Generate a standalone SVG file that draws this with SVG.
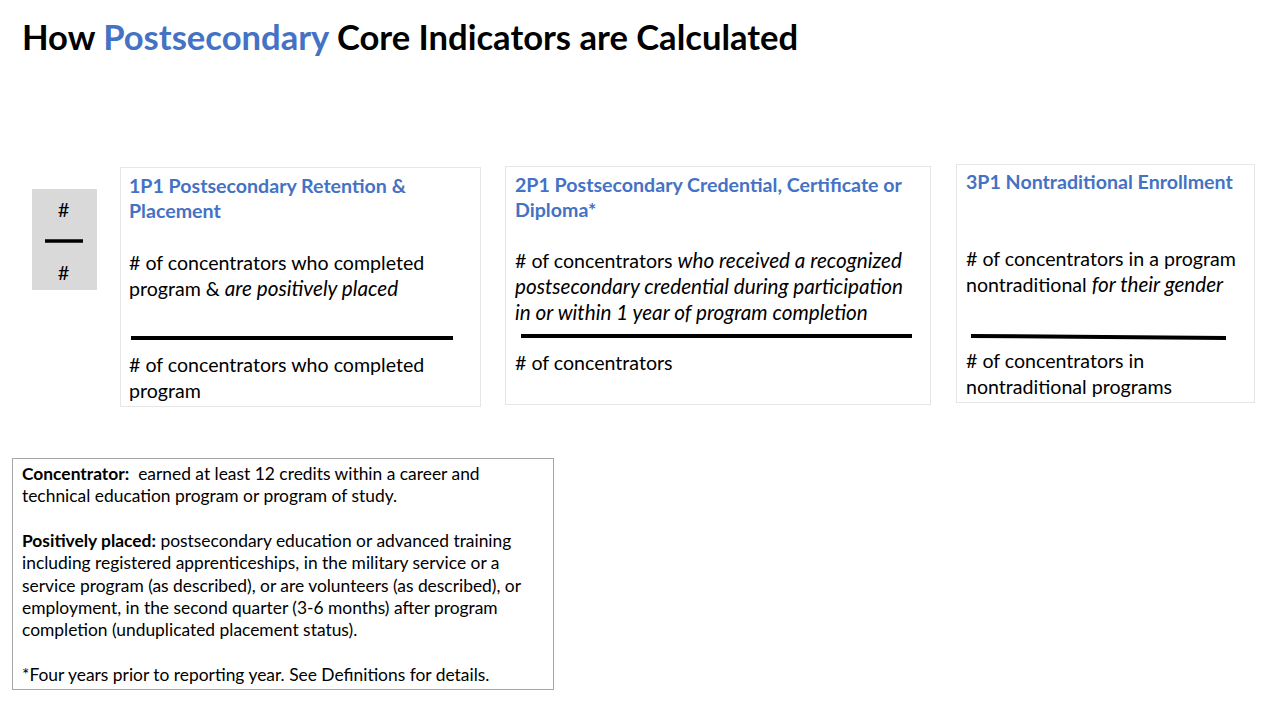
<svg xmlns="http://www.w3.org/2000/svg" width="1280" height="720" viewBox="0 0 1280 720">
<style>
text{font-family:Lato,"Open Sans","Liberation Sans",sans-serif;fill:#000}
.title{font-size:34.6px;font-weight:bold}
.blue{fill:#4472C4}
.h{font-size:19.6px;font-weight:bold;fill:#4472C4}
.b{font-size:19.6px}
.b .it,.b.it{font-size:20.7px}
.d{font-size:17.4px}
.bold{font-weight:bold}
.it{font-style:italic}
.card{fill:#fff;stroke:#e6e6e6;stroke-width:1}
.bar{stroke:#000;stroke-width:4}
</style>
<rect width="1280" height="720" fill="#fff"/>
<text class="title" x="22" y="50">How <tspan class="blue">Postsecondary</tspan> Core Indicators are Calculated</text>

<g id="fraction">
<rect x="32" y="189" width="65" height="101" fill="#d9d9d9"/>
<text x="63.5" y="217" font-size="20" text-anchor="middle">#</text>
<line x1="45" y1="241" x2="83" y2="241" stroke="#000" stroke-width="3.5"/>
<text x="63.5" y="280" font-size="20" text-anchor="middle">#</text>
</g>

<g id="card1">
<rect class="card" x="120.5" y="167.5" width="360" height="239"/>
<text class="h" x="129" y="193">1P1 Postsecondary Retention &amp;</text>
<text class="h" x="129" y="218">Placement</text>
<text class="b" x="129" y="270"># of concentrators who completed</text>
<text class="b" x="129" y="296">program &amp; <tspan class="it">are positively placed</tspan></text>
<line class="bar" x1="131" y1="338" x2="453" y2="338"/>
<text class="b" x="129" y="372"># of concentrators who completed</text>
<text class="b" x="129" y="398">program</text>
</g>

<g id="card2">
<rect class="card" x="505.5" y="166.5" width="425" height="238"/>
<text class="h" x="515" y="192">2P1 Postsecondary Credential, Certificate or</text>
<text class="h" x="515" y="217">Diploma*</text>
<text class="b" x="515" y="268"># of concentrators <tspan class="it">who received a recognized</tspan></text>
<text class="b it" x="515" y="294">postsecondary credential during participation</text>
<text class="b it" x="515" y="320">in or within 1 year of program completion</text>
<line class="bar" x1="521" y1="336" x2="912" y2="336"/>
<text class="b" x="515" y="370"># of concentrators</text>
</g>

<g id="card3">
<rect class="card" x="956.5" y="164.5" width="298" height="238"/>
<text class="h" x="966" y="189">3P1 Nontraditional Enrollment</text>
<text class="b" x="966" y="266"># of concentrators in a program</text>
<text class="b" x="966" y="292">nontraditional <tspan class="it">for their gender</tspan></text>
<line class="bar" x1="971" y1="336" x2="1226" y2="338"/>
<text class="b" x="966" y="368"># of concentrators in</text>
<text class="b" x="966" y="394">nontraditional programs</text>
</g>

<g id="definitions">
<rect x="12.5" y="458.5" width="541" height="231" fill="#fff" stroke="#a6a6a6" stroke-width="1"/>
<text class="d" x="22" y="480"><tspan class="bold">Concentrator:</tspan>&#160; earned at least 12 credits within a career and</text>
<text class="d" x="22" y="502">technical education program or program of study.</text>
<text class="d" x="22" y="547"><tspan class="bold">Positively placed:</tspan> postsecondary education or advanced training</text>
<text class="d" x="22" y="569">including registered apprenticeships, in the military service or a</text>
<text class="d" x="22" y="592">service program (as described), or are volunteers (as described), or</text>
<text class="d" x="22" y="614">employment, in the second quarter (3-6 months) after program</text>
<text class="d" x="22" y="636">completion (unduplicated placement status).</text>
<text class="d" x="22" y="681">*Four years prior to reporting year. See Definitions for details.</text>
</g>
</svg>
